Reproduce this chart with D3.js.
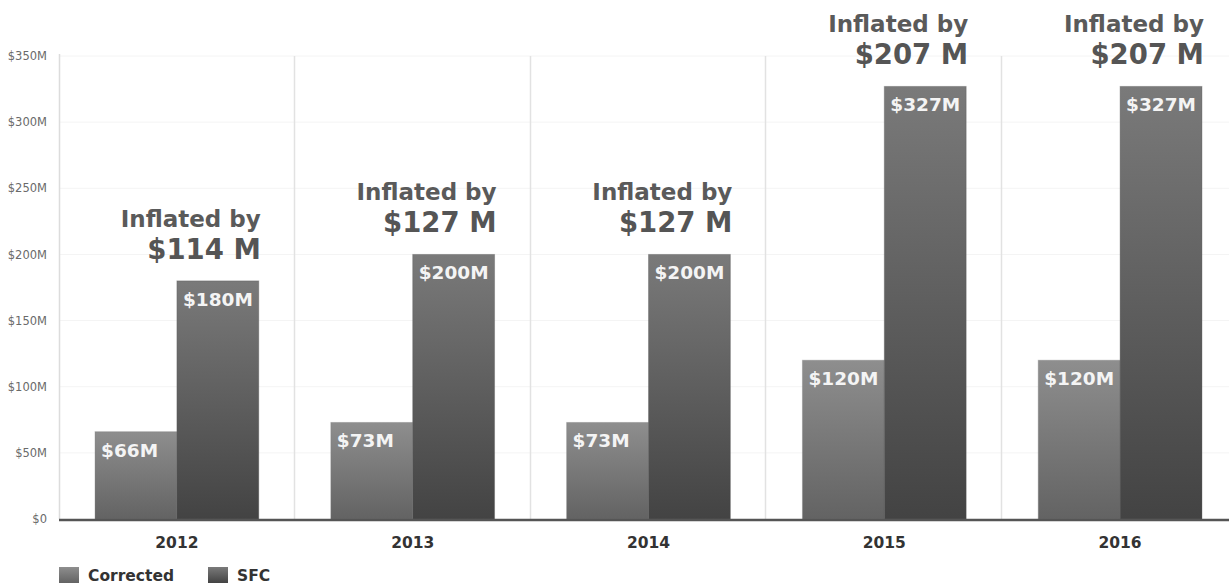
<!DOCTYPE html>
<html>
<head>
<meta charset="utf-8">
<script src="https://cdn.jsdelivr.net/npm/d3@7"></script>
<style>
  html, body { margin: 0; padding: 0; background: #fff; }
  svg { display: block; font-family: "DejaVu Sans", Verdana, sans-serif; }
</style>
</head>
<body>
<svg id="chart" width="1229" height="585"></svg>
<script>
// Chart data
const years = ["2012", "2013", "2014", "2015", "2016"];
const corrected = [66, 73, 73, 120, 120];
const sfc = [180, 200, 200, 327, 327];
const inflatedBy = [114, 127, 127, 207, 207];
const seriesNames = ["Corrected", "SFC"];
const yTicks = [0, 50, 100, 150, 200, 250, 300, 350];

const svg = d3.select("#chart");
const W = 1229, H = 585;
const margin = { left: 59, right: -9, top: 56, bottom: 66 };
const innerBottom = H - margin.bottom; // 519

const x = d3.scaleBand().domain(years).range([margin.left, W - margin.right]).paddingInner(0).paddingOuter(0);
const y = d3.scaleLinear().domain([0, 350]).range([innerBottom, margin.top]);
const sub = d3.scaleBand().domain(seriesNames).range([0, x.bandwidth()]).paddingInner(0).paddingOuter(0.44);

// Gradients for the two series
const defs = svg.append("defs");
function grad(id, top, bottom) {
  const g = defs.append("linearGradient").attr("id", id).attr("x1", 0).attr("y1", 0).attr("x2", 0).attr("y2", 1);
  g.append("stop").attr("offset", "0%").attr("stop-color", top);
  g.append("stop").attr("offset", "100%").attr("stop-color", bottom);
}
grad("g-corrected", "#8e8e8e", "#636363");
grad("g-sfc", "#7a7a7a", "#434343");
const fills = { Corrected: "url(#g-corrected)", SFC: "url(#g-sfc)" };

// Horizontal gridlines
svg.append("g").selectAll("line").data(yTicks.slice(1)).join("line")
  .attr("x1", margin.left).attr("x2", W)
  .attr("y1", d => y(d)).attr("y2", d => y(d))
  .attr("stroke", "#f4f4f4").attr("stroke-width", 1);

// Vertical category separators
svg.append("g").selectAll("line").data(years.slice(1)).join("line")
  .attr("x1", d => Math.round(x(d)) - 0.5).attr("x2", d => Math.round(x(d)) - 0.5)
  .attr("y1", margin.top).attr("y2", innerBottom)
  .attr("stroke", "#e2e2e2").attr("stroke-width", 1.5);

// Left axis line
svg.append("line").attr("x1", margin.left + 0.5).attr("x2", margin.left + 0.5)
  .attr("y1", margin.top - 2).attr("y2", innerBottom)
  .attr("stroke", "#dcdcdc").attr("stroke-width", 1.5);

// Y axis labels
const yAxis = d3.axisLeft(y).tickValues(yTicks).tickSize(0).tickPadding(12)
  .tickFormat(d => d === 0 ? "$0" : "$" + d + "M");
svg.append("g").attr("transform", `translate(${margin.left},0)`).call(yAxis)
  .call(g => g.select(".domain").remove())
  .call(g => g.selectAll("text").attr("fill", "#6a6a6a").attr("font-size", 11.5).attr("font-family", "DejaVu Sans, Verdana, sans-serif"));

// Bars
const rows = years.map((yr, i) => ({ year: yr, values: [
  { key: "Corrected", v: corrected[i] },
  { key: "SFC", v: sfc[i] }
], inflated: inflatedBy[i] }));

const groups = svg.append("g").selectAll("g").data(rows).join("g")
  .attr("transform", d => `translate(${x(d.year)},0)`);

groups.selectAll("rect").data(d => d.values).join("rect")
  .attr("x", d => sub(d.key))
  .attr("y", d => y(d.v))
  .attr("width", sub.bandwidth())
  .attr("height", d => innerBottom - y(d.v))
  .attr("fill", d => fills[d.key])
  .attr("stroke", d => d.key === "SFC" ? "#555" : "#7a7a7a")
  .attr("stroke-opacity", 0.35)
  .attr("stroke-width", 1);

// Value labels inside bar tops
groups.selectAll("text.val").data(d => d.values).join("text")
  .attr("class", "val")
  .attr("x", d => sub(d.key) + 6)
  .attr("y", d => y(d.v) + 25)
  .attr("fill", "#f4f4f4")
  .attr("font-size", 18.5)
  .attr("font-weight", "bold")
  .text(d => "$" + d.v + "M");

// "Inflated by" annotations
const annX = d => sub("SFC") + sub.bandwidth() + 2;
groups.append("text")
  .attr("x", annX).attr("y", d => y(d.values[1].v) - 54)
  .attr("text-anchor", "end").attr("fill", "#5a5a5a").attr("font-size", 23).attr("font-weight", "bold")
  .text("Inflated by");
groups.append("text")
  .attr("x", annX).attr("y", d => y(d.values[1].v) - 22)
  .attr("text-anchor", "end").attr("fill", "#555").attr("font-size", 27.5).attr("font-weight", "bold")
  .text(d => "$" + d.inflated + " M");

// Baseline
svg.append("line").attr("x1", margin.left).attr("x2", W)
  .attr("y1", innerBottom + 1).attr("y2", innerBottom + 1)
  .attr("stroke", "#555").attr("stroke-width", 2.5);

// X axis labels
svg.append("g").selectAll("text").data(years).join("text")
  .attr("x", d => x(d) + x.bandwidth() / 2)
  .attr("y", 548)
  .attr("text-anchor", "middle")
  .attr("fill", "#333").attr("font-size", 15.5).attr("font-weight", "bold")
  .text(d => d);

// Legend
const legend = svg.append("g").selectAll("g").data(seriesNames).join("g")
  .attr("transform", (d, i) => `translate(${59 + i * 149},567)`);
legend.append("rect").attr("width", 20).attr("height", 16).attr("fill", d => fills[d]);
legend.append("text").attr("x", 29).attr("y", 14)
  .attr("fill", "#333").attr("font-size", 15.5).attr("font-weight", "bold").text(d => d);
</script>
</body>
</html>
